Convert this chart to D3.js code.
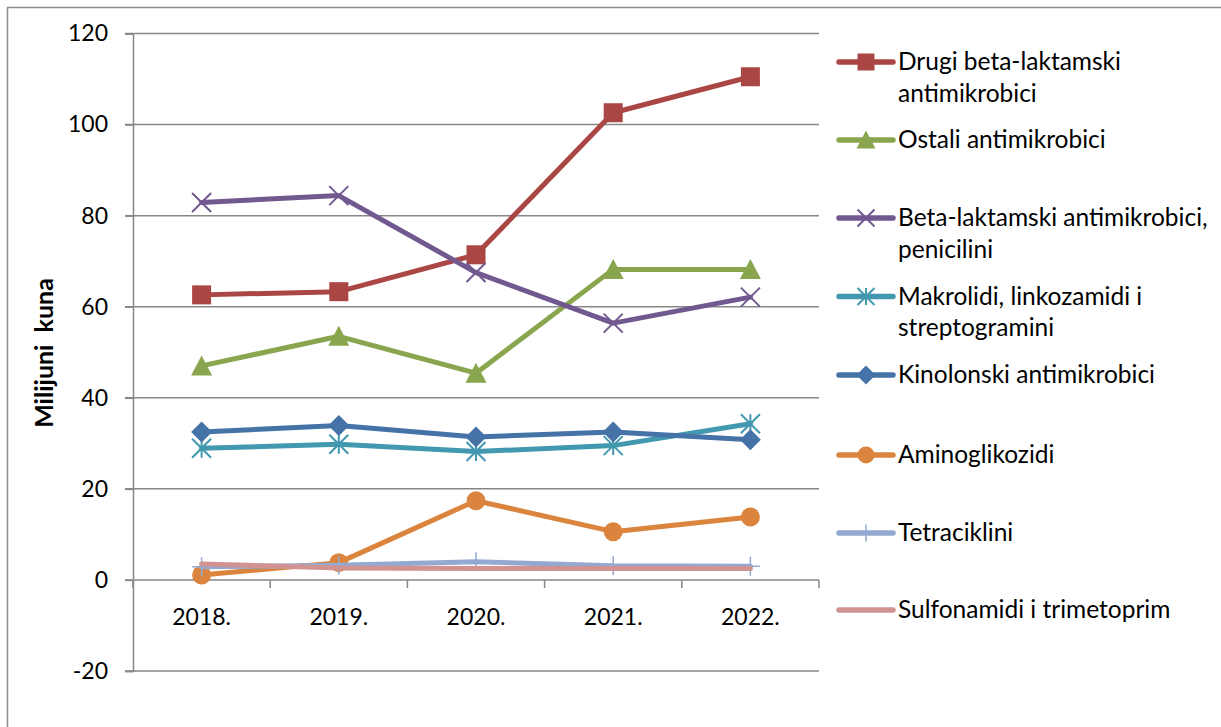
<!DOCTYPE html>
<html>
<head>
<meta charset="utf-8">
<script src="https://cdn.jsdelivr.net/npm/d3@7"></script>
<style>
  body { margin: 0; background: #ffffff; }
  text { font-family: Lato, "Open Sans", sans-serif; fill: #000000; }
</style>
</head>
<body>
<script>
// 类别与数据（百万库纳）
const years = ['2018.', '2019.', '2020.', '2021.', '2022.'];
const seriesNames = [
    ['Drugi beta-laktamski', 'antimikrobici'],
    ['Ostali antimikrobici'],
    ['Beta-laktamski antimikrobici,', 'penicilini'],
    ['Makrolidi, linkozamidi i', 'streptogramini'],
    ['Kinolonski antimikrobici'],
    ['Aminoglikozidi'],
    ['Tetraciklini'],
    ['Sulfonamidi i trimetoprim']
];
const drugiBeta = [62.6, 63.3, 71.4, 102.6, 110.5];
const ostali = [47.0, 53.5, 45.4, 68.2, 68.2];
const betaPenicilini = [82.9, 84.4, 67.5, 56.4, 62.1];
const makrolidi = [28.9, 29.8, 28.2, 29.5, 34.3];
const kinolonski = [32.5, 33.9, 31.4, 32.5, 30.8];
const aminoglikozidi = [1.1, 3.8, 17.4, 10.6, 13.8];
const tetraciklini = [2.9, 3.2, 4.0, 3.1, 3.0];
const sulfonamidi = [3.5, 2.6, 2.5, 2.5, 2.5];
const yTicks = [-20, 0, 20, 40, 60, 80, 100, 120];

const seriesValues = [drugiBeta, ostali, betaPenicilini, makrolidi, kinolonski, aminoglikozidi, tetraciklini, sulfonamidi];
const colors = ['#AA4643', '#89A54E', '#71588F', '#4198AF', '#4572A7', '#DB843D', '#93A9CF', '#D19392'];
const markers = ['square', 'triangle', 'x', 'asterisk', 'diamond', 'circle', 'plus', 'none'];

const width = 1221, height = 727;
const plot = {left: 133, right: 819, top: 33.5, bottom: 671};

const svg = d3.select('body').append('svg')
    .attr('width', width)
    .attr('height', height);

// 外边框
svg.append('path')
    .attr('d', `M 7.5 ${height + 5} L 7.5 7.5 L ${width + 5} 7.5`)
    .attr('fill', 'none')
    .attr('stroke', '#8c8c8c')
    .attr('stroke-width', 1.5);

const x = d3.scaleBand().domain(years).range([plot.left, plot.right]);
const y = d3.scaleLinear().domain([-20, 120]).range([plot.bottom, plot.top]);

// 网格线
svg.append('g')
    .selectAll('line')
    .data(yTicks)
    .join('line')
    .attr('x1', plot.left - 8)
    .attr('x2', plot.right)
    .attr('y1', d => y(d))
    .attr('y2', d => y(d))
    .attr('stroke', '#878787')
    .attr('stroke-width', 1.5);

// y 轴
const yAxis = svg.append('g')
    .attr('transform', `translate(${plot.left},0)`)
    .call(d3.axisLeft(y).tickValues(yTicks).tickSize(8).tickPadding(17).tickFormat(d => String(d)));
yAxis.select('.domain').attr('stroke', '#878787').attr('stroke-width', 1.5);
yAxis.selectAll('.tick line').attr('stroke', '#878787').attr('stroke-width', 1.5);
yAxis.selectAll('.tick text')
    .style('font-size', '23px')
    .attr('fill', '#000');

// x 轴（位于 0 处）
const xAxis = svg.append('g')
    .attr('transform', `translate(0,${y(0)})`)
    .call(d3.axisBottom(x).tickSize(0).tickPadding(29));
xAxis.select('.domain').remove();
xAxis.selectAll('.tick text')
    .style('font-size', '23px')
    .attr('fill', '#000');
const bandEdges = years.map(d => x(d)).concat([plot.right]);
svg.append('g')
    .selectAll('line')
    .data(bandEdges)
    .join('line')
    .attr('x1', d => d)
    .attr('x2', d => d)
    .attr('y1', y(0))
    .attr('y2', y(0) + 8)
    .attr('stroke', '#878787')
    .attr('stroke-width', 1.5);

// y 轴标题
svg.append('text')
    .attr('transform', `translate(53,353) rotate(-90)`)
    .attr('text-anchor', 'middle')
    .style('font-size', '25px')
    .style('font-weight', 'bold')
    .style('white-space', 'pre')
    .text('Milijuni  kuna');

const cx = (d, i) => x(years[i]) + x.bandwidth() / 2;

/**
 * 绘制标记
 */
function drawMarker(g, type, color, s) {
    const h = s / 2;
    if (type === 'square') {
        g.append('rect').attr('x', -h).attr('y', -h).attr('width', s).attr('height', s).attr('fill', color);
    } else if (type === 'triangle') {
        g.append('path').attr('d', `M 0 ${-h - 1} L ${h + 1} ${h} L ${-h - 1} ${h} Z`).attr('fill', color);
    } else if (type === 'diamond') {
        g.append('path').attr('d', `M 0 ${-h - 1} L ${h + 1} 0 L 0 ${h + 1} L ${-h - 1} 0 Z`).attr('fill', color);
    } else if (type === 'circle') {
        g.append('circle').attr('r', h).attr('fill', color);
    } else if (type === 'x') {
        g.append('path').attr('d', `M ${-h} ${-h} L ${h} ${h} M ${-h} ${h} L ${h} ${-h}`)
            .attr('stroke', color).attr('stroke-width', 2);
    } else if (type === 'asterisk') {
        g.append('path').attr('d', `M ${-h} ${-h} L ${h} ${h} M ${-h} ${h} L ${h} ${-h} M 0 ${-h} L 0 ${h}`)
            .attr('stroke', color).attr('stroke-width', 2);
    } else if (type === 'plus') {
        g.append('path').attr('d', `M 0 ${-h} L 0 ${h} M ${-h} 0 L ${h} 0`)
            .attr('stroke', color).attr('stroke-width', 1.5);
    }
}

// 绘制折线
const line = d3.line().x(cx).y(d => y(d));
seriesValues.forEach((vals, si) => {
    const g = svg.append('g');
    g.append('path')
        .datum(vals)
        .attr('d', line)
        .attr('fill', 'none')
        .attr('stroke', colors[si])
        .attr('stroke-width', 5)
        .attr('stroke-linejoin', 'round')
        .attr('stroke-linecap', 'round');
    vals.forEach((v, i) => {
        const m = g.append('g').attr('transform', `translate(${cx(v, i)},${y(v)})`);
        drawMarker(m, markers[si], colors[si], 19);
    });
});

// 图例
const legendY = [62, 140, 218, 296.5, 375, 455, 533, 610];
const legend = svg.append('g');
seriesNames.forEach((lines, si) => {
    const g = legend.append('g').attr('transform', `translate(0,${legendY[si]})`);
    g.append('line')
        .attr('x1', 839).attr('x2', 893).attr('y1', 0).attr('y2', 0)
        .attr('stroke', colors[si])
        .attr('stroke-width', 5.5)
        .attr('stroke-linecap', 'round');
    const m = g.append('g').attr('transform', 'translate(866,0)');
    drawMarker(m, markers[si], colors[si], 17);
    lines.forEach((t, li) => {
        g.append('text')
            .attr('x', 898)
            .attr('y', 8 + li * 31.7)
            .style('font-size', '24.5px')
            .text(t);
    });
});
</script>
</body>
</html>
